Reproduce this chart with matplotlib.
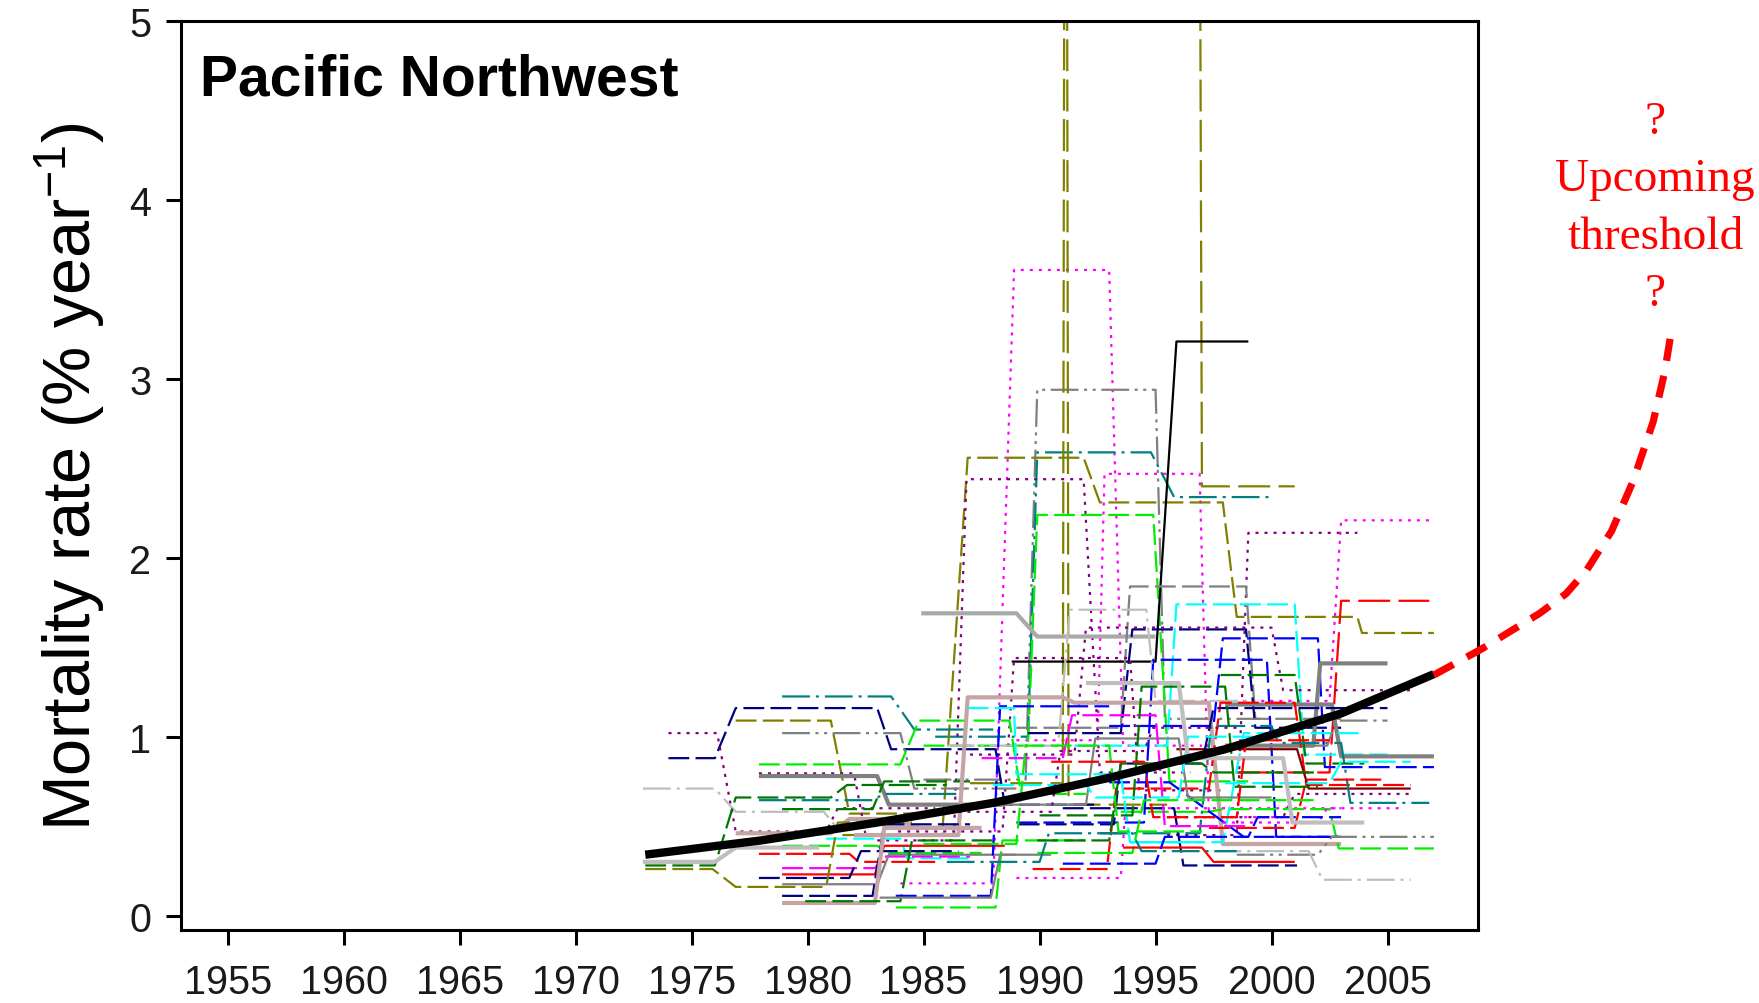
import matplotlib
matplotlib.use('Agg')
import matplotlib.pyplot as plt

plt.rcParams['font.family'] = ['Liberation Sans', 'DejaVu Sans']
plt.rcParams['mathtext.fontset'] = 'custom'
plt.rcParams['mathtext.rm'] = 'Liberation Sans'
plt.rcParams['mathtext.it'] = 'Liberation Sans:italic'
plt.rcParams['lines.scale_dashes'] = False

# ---------------- data ----------------
x_ticks = [1955, 1960, 1965, 1970, 1975, 1980, 1985, 1990, 1995, 2000, 2005]
y_ticks = [0, 1, 2, 3, 4, 5]

trend_years = [1973.0, 1978.0, 1983.0, 1988.0, 1993.0, 1998.0, 2003.0, 2007.0]
trend_values = [0.34, 0.42, 0.52, 0.63, 0.77, 0.93, 1.13, 1.35]

projection_years = [2007.0, 2009.05, 2011.56, 2012.7, 2013.58, 2014.66, 2015.59, 2016.45, 2016.95, 2017.24]
projection_values = [1.345, 1.49, 1.69, 1.80, 1.93, 2.15, 2.43, 2.76, 3.04, 3.27]

# each plot: list of census intervals (start year, end year, mortality rate)
plots = [
    [(1984.0, 1988.0, 0.18), (1988.9, 1993.0, 3.61), (1993.6, 1997.0, 0.95)],
    [(1989.0, 1992.5, 0.98), (1992.8, 1996.9, 2.47), (1997.3, 2001.0, 0.55)],
    [(1985.0, 1989.4, 0.76), (1989.9, 1995.0, 2.94), (1995.4, 1999.5, 1.10)],
    [(1985.5, 1989.5, 1.00), (1989.9, 1994.8, 2.59), (1995.8, 2000.0, 2.34)],
    [(1981.5, 1985.8, 0.45), (1986.9, 1991.9, 2.56), (1992.6, 1997.9, 2.31), (1998.5, 2003.7, 1.67), (2003.9, 2007.0, 1.58)],
    [(1987.0, 1991.0, 0.74), (1991.1, 1991.15, 8.0), (1991.25, 1995.5, 0.62)],
    [(1996.8, 1996.85, 8.0), (1997.0, 2001.0, 2.40)],
    [(1983.0, 1986.3, 0.42), (1986.85, 1991.9, 2.44), (1992.6, 1996.5, 0.80)],
    [(1985.0, 1989.5, 0.95), (1989.9, 1994.9, 2.24), (1995.6, 1999.0, 0.75)],
    [(1988.8, 1995.0, 1.42), (1995.9, 1999.0, 3.21)],
    [(1995.5, 1998.5, 0.45), (1999.0, 2003.7, 2.14)],
    [(1998.0, 2002.5, 1.20), (2003.0, 2007.0, 2.21)],
    [(1998.5, 2002.5, 0.80), (2003.0, 2006.8, 1.76)],
    [(1984.9, 1989.0, 1.69), (1989.9, 1995.0, 1.56)],
    [(1989.0, 1993.5, 1.05), (1993.9, 1998.9, 1.84), (1999.3, 2003.0, 1.10)],
    [(1991.5, 1995.5, 0.95), (1995.9, 2001.0, 1.74), (2001.4, 2005.0, 0.90)],
    [(1989.5, 1993.5, 1.02), (1994.0, 1998.9, 1.60), (1999.3, 2003.0, 1.05)],
    [(1987.0, 1991.5, 0.90), (1992.0, 2000.0, 1.61), (2000.5, 2006.0, 1.26)],
    [(1993.0, 1997.5, 1.06), (1997.9, 2002.0, 1.55), (2002.3, 2007.0, 0.83)],
    [(1989.0, 1994.5, 0.52), (1994.9, 1999.8, 1.43), (2000.2, 2003.0, 0.44)],
    [(1983.9, 1988.4, 0.47), (1988.9, 1993.9, 1.44), (1994.3, 1998.0, 0.70)],
    [(1986.0, 1990.8, 0.95), (1991.3, 1994.6, 1.71), (1995.0, 1999.0, 1.20)],
    [(1998.0, 2001.8, 0.95), (2002.1, 2005.0, 1.41)],
    [(1998.0, 2002.6, 1.18), (2003.0, 2007.0, 0.89)],
    [(1978.9, 1983.6, 1.225), (1984.6, 1988.0, 1.04)],
    [(1974.0, 1976.0, 0.88), (1976.9, 1983.0, 1.16), (1983.6, 1988.1, 0.93), (1988.5, 1992.5, 0.62)],
    [(1976.9, 1981.0, 1.09), (1981.8, 1985.5, 0.57)],
    [(1974.0, 1976.1, 1.02), (1976.9, 1980.8, 0.47), (1981.3, 1985.5, 0.60)],
    [(1978.9, 1984.0, 1.02), (1984.6, 1989.0, 0.71)],
    [(1977.9, 1984.0, 0.845), (1984.8, 1988.7, 1.09), (1989.2, 1992.0, 0.68)],
    [(1977.9, 1982.0, 0.795), (1982.5, 1986.0, 0.45)],
    [(1977.9, 1983.0, 0.78), (1983.5, 1988.5, 0.62)],
    [(1972.9, 1976.0, 0.71), (1976.9, 1980.7, 0.58), (1981.2, 1985.0, 0.50)],
    [(1973.0, 1976.0, 0.28), (1976.9, 1981.0, 0.66), (1981.7, 1986.0, 0.73)],
    [(1977.9, 1982.8, 0.645), (1983.3, 1986.5, 0.68)],
    [(1978.9, 1982.8, 0.595), (1983.3, 1987.0, 0.75)],
    [(1976.9, 1981.0, 0.46), (1981.8, 1984.0, 0.54), (1984.6, 1986.5, 0.49)],
    [(1980.8, 1984.0, 0.43), (1984.3, 1987.0, 0.32)],
    [(1978.9, 1983.0, 0.39), (1983.5, 1987.5, 0.35)],
    [(1982.0, 1986.5, 0.45), (1986.9, 1991.0, 1.22), (1991.5, 1997.3, 1.19), (1997.9, 2003.0, 0.40)],
    [(1977.9, 1981.8, 0.345), (1982.2, 1985.5, 0.30)],
    [(1978.9, 1982.9, 0.265), (1983.3, 1987.0, 0.33)],
    [(1978.9, 1982.9, 0.23), (1983.3, 1988.5, 0.39)],
    [(1977.9, 1981.8, 0.21), (1982.3, 1986.5, 0.36)],
    [(1973.0, 1975.9, 0.26), (1976.9, 1980.8, 0.16), (1981.3, 1984.5, 0.52)],
    [(1978.9, 1983.0, 0.175), (1983.5, 1989.0, 0.34)],
    [(1978.9, 1982.8, 0.11), (1983.3, 1987.0, 0.51)],
    [(1978.9, 1982.9, 0.07), (1983.3, 1987.5, 0.49)],
    [(1979.9, 1984.0, 0.08), (1984.5, 1988.0, 0.42)],
    [(1983.8, 1987.9, 0.11), (1988.3, 1993.0, 1.17)],
    [(1983.8, 1988.1, 0.045), (1988.4, 1992.0, 0.42)],
    [(1983.1, 1987.9, 0.10), (1988.3, 1990.5, 0.34)],
    [(1972.9, 1976.0, 0.30), (1976.9, 1980.5, 0.38)],
    [(1989.7, 1992.9, 0.26), (1993.3, 1997.3, 0.71), (1997.8, 2001.0, 1.19), (2001.5, 2006.0, 0.73)],
    [(1989.0, 1993.5, 0.21), (1993.7, 1997.5, 0.60), (1998.0, 2003.0, 0.60)],
    [(1995.9, 2001.1, 0.93), (2001.6, 2006.0, 0.71)],
    [(1997.8, 2001.0, 1.345), (2001.5, 2004.0, 0.85)],
    [(1993.5, 1997.3, 0.58), (1997.9, 2002.5, 0.595), (2002.9, 2007.0, 0.375)],
    [(1993.0, 1995.6, 0.745), (1998.8, 2003.0, 0.44)],
    [(1992.6, 1996.9, 0.46), (1997.4, 2000.0, 1.06), (2000.3, 2003.0, 0.965), (2003.4, 2006.8, 0.63)],
    [(1993.9, 1997.9, 0.41), (1998.8, 2002.8, 1.02), (2003.0, 2004.0, 1.02)],
    [(1991.0, 1995.8, 0.60), (1996.2, 2001.1, 0.28)],
    [(1998.5, 2002.0, 0.34), (2002.6, 2007.0, 0.44)],
    [(1997.5, 2001.6, 0.36), (2002.2, 2006.0, 0.20)],
    [(1995.5, 2000.5, 0.55), (2001.0, 2006.0, 0.68)],
    [(1997.9, 2002.0, 0.52), (2002.4, 2005.7, 0.60)],
    [(1997.3, 2001.0, 0.49), (2001.5, 2005.0, 0.76)],
    [(1989.9, 1994.0, 0.35), (1994.5, 1998.0, 0.645), (1998.5, 2002.0, 0.645)],
    [(1989.1, 1993.2, 0.51), (1993.5, 1997.0, 0.85), (1997.5, 2000.5, 1.16), (2002.5, 2005.0, 1.16)],
    [(1986.9, 1988.9, 1.16), (1989.0, 1993.5, 0.79), (1993.9, 1997.0, 0.41)],
    [(2000.0, 2002.4, 0.95), (2002.8, 2005.0, 1.09)],
    [(1998.0, 2002.5, 0.74), (2003.0, 2006.0, 0.86)],
    [(1993.6, 1997.0, 0.38), (1997.5, 2001.0, 0.30)],
    [(1989.9, 1993.0, 0.42), (1993.5, 1997.0, 0.85), (1997.5, 2002.0, 0.80)],
    [(1988.5, 1992.0, 0.62), (1992.4, 1996.0, 0.99), (1996.4, 2000.0, 0.66)],
    [(1987.5, 1991.0, 0.88), (1991.4, 1995.0, 1.12), (1995.4, 1999.0, 0.50)],
    [(1990.0, 1994.0, 0.56), (1994.4, 1998.0, 1.28), (1998.4, 2002.0, 0.72)],
    [(1986.0, 1990.0, 0.30), (1990.4, 1994.0, 0.46), (1994.4, 1998.5, 0.36)],
    [(1988.0, 1992.0, 0.73), (1992.4, 1996.0, 0.66), (1996.4, 2000.5, 1.00)],
    [(1991.0, 1995.0, 0.29), (1995.4, 1999.0, 0.44), (1999.4, 2003.0, 0.55)],
    [(1986.5, 1990.5, 0.58), (1990.9, 1994.5, 0.92), (1994.9, 1998.5, 1.05)],
    [(1985.0, 1989.0, 0.40), (1989.4, 1993.0, 0.95), (1993.4, 1997.0, 0.47)],
    [(1992.0, 1996.0, 1.30), (1996.4, 2000.5, 0.88), (2000.9, 2004.0, 0.52)],
    [(1990.5, 1994.5, 0.86), (1994.9, 1998.5, 0.55), (1998.9, 2002.5, 0.98)],
]

# ---------------- styles ----------------
COL = {'K': '#000000', 'R': '#FF0000', 'L': '#00EE00', 'B': '#0000FF', 'C': '#00FFFF',
       'M': '#FF00FF', 'O': '#808000', 'N': '#000080', 'T': '#008080', 'P': '#800080',
       'MR': '#800000', 'DG': '#007700', 'GR': '#808080', 'SI': '#BEBEBE',
       'RB': '#C4A4A4', 'DGR': '#A9A9A9'}
LS = {'solid': '-', 'dash': (0, (15, 4.5)), 'long': (0, (23, 6)), 'dot': (0, (2.2, 4.3)),
      'dashdot': (0, (20, 4.3, 2.2, 4.3)), 'dashdotdot': (0, (20, 4, 2.2, 4, 2.2, 4))}
THIN, THICK = 1.6, 3.0
plot_styles = [
    ('M', 'dot', THIN), ('M', 'dot', THIN), ('GR', 'dashdotdot', THIN), ('T', 'dashdot', THIN),
    ('O', 'dash', THIN), ('O', 'long', THIN), ('O', 'long', THIN), ('P', 'dot', THIN),
    ('L', 'dash', THIN), ('K', 'solid', THIN), ('P', 'dot', THIN), ('M', 'dot', THIN),
    ('R', 'long', THIN), ('DGR', 'solid', THICK), ('GR', 'dash', THIN), ('C', 'dash', THIN),
    ('N', 'dash', THIN), ('P', 'dot', THIN), ('B', 'dash', THIN), ('B', 'dash', THIN),
    ('P', 'dot', THIN), ('SI', 'dashdot', THIN), ('GR', 'solid', THICK), ('GR', 'solid', THICK),
    ('T', 'dashdot', THIN), ('N', 'dash', THIN), ('O', 'dash', THIN), ('P', 'dot', THIN),
    ('GR', 'dashdotdot', THIN), ('L', 'dash', THIN), ('P', 'dot', THIN), ('GR', 'solid', THICK),
    ('SI', 'dashdot', THIN), ('DG', 'dash', THIN), ('T', 'dashdot', THIN), ('DG', 'dash', THIN),
    ('RB', 'solid', THICK), ('C', 'dash', THIN), ('L', 'dash', THIN), ('RB', 'solid', THICK),
    ('R', 'dash', THIN), ('M', 'dash', THIN), ('R', 'solid', THIN), ('N', 'dash', THIN),
    ('O', 'dash', THIN), ('GR', 'solid', THIN), ('N', 'dash', THIN), ('RB', 'solid', THICK),
    ('DG', 'dash', THIN), ('B', 'dash', THIN), ('L', 'dash', THIN), ('GR', 'solid', THIN),
    ('SI', 'solid', THICK), ('R', 'dash', THIN), ('M', 'dot', THIN), ('MR', 'solid', THIN),
    ('DG', 'dash', THIN), ('L', 'dash', THIN), ('B', 'dash', THIN), ('T', 'dashdot', THIN),
    ('C', 'dash', THIN), ('N', 'dash', THIN), ('GR', 'dashdotdot', THIN), ('SI', 'dashdot', THIN),
    ('P', 'dot', THIN), ('M', 'dot', THIN), ('R', 'dash', THIN), ('L', 'dash', THIN),
    ('N', 'dash', THIN), ('C', 'dash', THIN), ('GR', 'dashdot', THIN), ('C', 'dash', THIN),
    ('R', 'solid', THIN), ('DG', 'dash', THIN),
    ('GR', 'solid', THIN), ('M', 'dash', THIN), ('DG', 'dash', THIN), ('T', 'dashdot', THIN),
    ('C', 'dash', THIN), ('B', 'dash', THIN), ('P', 'dot', THIN), ('L', 'dash', THIN),
    ('SI', 'solid', THICK), ('R', 'dash', THIN),
]

# ---------------- figure ----------------
fig = plt.figure(figsize=(17.59, 10.04), dpi=100)
ax = fig.add_axes([0.1027, 0.0727, 0.7378, 0.905])

for intervals, (c, ls, lw) in zip(plots, plot_styles):
    xs, ys = [], []
    for (x0, x1, v) in intervals:
        xs += [x0, x1]
        ys += [v, v]
    ax.plot(xs, ys, color=COL[c], linestyle=LS[ls], linewidth=lw,
            dash_capstyle='butt', solid_capstyle='butt', zorder=2)

ax.plot(trend_years, trend_values, color='black', linewidth=6.0,
        solid_capstyle='butt', zorder=4)
ax.plot(projection_years, projection_values, color='#FF0000', linewidth=5.2,
        linestyle=(0, (16, 11)), dash_capstyle='butt', clip_on=False, zorder=5)

ax.set_xlim(1952.97, 2008.92)
ax.set_ylim(-0.081, 5.0)
ax.set_xticks(x_ticks)
ax.set_xticklabels([str(v) for v in x_ticks])
ax.set_yticks(y_ticks)
ax.set_yticklabels([str(v) for v in y_ticks])

for s in ax.spines.values():
    s.set_linewidth(2.2)
    s.set_color('black')
ax.tick_params(axis='both', direction='out', length=11, width=2.2, labelsize=28.5,
               labelcolor='#1a1a1a')
ax.tick_params(axis='x', pad=13)
ax.tick_params(axis='y', pad=10)

ax.set_ylabel('Mortality rate (% year$^{-1}$)', fontsize=48, labelpad=16)

ax.text(0.015, 0.92, 'Pacific Northwest', transform=ax.transAxes,
        fontsize=41, fontweight='bold', ha='left', va='baseline')

fig.text(0.941, 0.792, '?\nUpcoming\nthreshold\n?', color='#FF0000',
         fontsize=34, family=['Liberation Serif', 'DejaVu Serif'],
         ha='center', va='center', linespacing=1.46)

fig.savefig('out.png', dpi=100)
